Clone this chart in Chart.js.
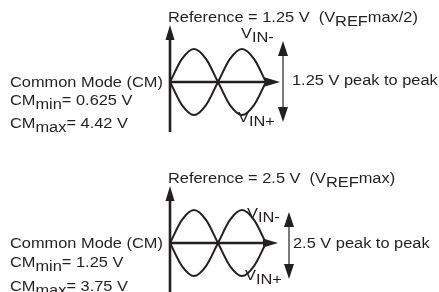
<!DOCTYPE html>
<html>
<head>
<meta charset="utf-8">
<script src="https://cdn.jsdelivr.net/npm/chart.js@4"></script>
<style>
  html, body { margin: 0; padding: 0; background: #fff; }
  canvas { display: block; }
</style>
</head>
<body>
<canvas id="top" width="439" height="146"></canvas>
<canvas id="bottom" width="439" height="146"></canvas>
<script>
// one period of the two inputs (fraction of a cycle, normalised amplitude)
const phase = [0, 0.125, 0.25, 0.375, 0.5, 0.625, 0.75, 0.875, 1];
const vinPlus = [0, 0.7, 1, 0.7, 0, -0.7, -1, -0.7, 0];
const vinMinus = [0, -0.7, -1, -0.7, 0, 0.7, 1, 0.7, 0];

// text of the two panels
const refVolts = ['1.25 V', '2.5 V'];
const refNotes = ['max/2)', 'max)'];
const peakToPeak = ['1.25 V', '2.5 V'];
const cmMin = ['0.625 V', '1.25 V'];
const cmMax = ['4.42 V', '3.75 V'];

const INK = '#231f20';
const FONT = '14px "Liberation Sans", Arial, sans-serif';
const SX = 1.17;     // the original lettering is slightly wide
const PX_CYCLE = 96; // pixels per cycle
const PX_AMP = 33;   // pixels per unit amplitude

// placement of the decorations, in canvas pixels of each panel
const layouts = [
  { axisY: 82, vTop: 25, vBot: 132, hTip: 280, arX: 283, arTop: 41, arBot: 122,
    refY: 22, cmY: 87, minY: 105, maxY: 128, ppY: 85, vmX: 241, vmY: 38, vpX: 238, vpY: 122 },
  { axisY: 97, vTop: 40, vBot: 150, hTip: 278, arX: 289, arTop: 66, arBot: 133,
    refY: 37, cmY: 102, minY: 121, maxY: 145, ppY: 102, vmX: 247, vmY: 72, vpX: 245, vpY: 134 }
];

function rich(ctx, x, y, parts) {
  let cx = x;
  for (const [t, sub] of parts) {
    ctx.save();
    ctx.translate(cx, y + (sub ? 4 : 0));
    ctx.scale(SX, 1);
    ctx.fillText(t, 0, 0);
    ctx.restore();
    cx += ctx.measureText(t).width * SX;
  }
}

function head(ctx, x, y, dir, len, half) {
  // dir: 'up' | 'down' | 'right'
  ctx.beginPath();
  if (dir === 'up') { ctx.moveTo(x, y); ctx.lineTo(x - half, y + len); ctx.lineTo(x + half, y + len); }
  if (dir === 'down') { ctx.moveTo(x, y); ctx.lineTo(x - half, y - len); ctx.lineTo(x + half, y - len); }
  if (dir === 'right') { ctx.moveTo(x, y); ctx.lineTo(x - len, y - half); ctx.lineTo(x - len, y + half); }
  ctx.closePath();
  ctx.fill();
}

const decor = {
  id: 'decor',
  afterDatasetsDraw(chart, args, opts) {
    const { ctx, scales } = chart;
    const L = layouts[opts.i];
    const x0 = scales.x.getPixelForValue(0);
    const y0 = scales.y.getPixelForValue(0);
    ctx.save();
    ctx.strokeStyle = INK;
    ctx.fillStyle = INK;
    // vertical axis
    ctx.lineWidth = 2.6;
    ctx.beginPath(); ctx.moveTo(x0, L.vBot); ctx.lineTo(x0, L.vTop + 10); ctx.stroke();
    head(ctx, x0, L.vTop, 'up', 15, 4.5);
    // horizontal axis
    ctx.beginPath(); ctx.moveTo(x0, y0); ctx.lineTo(L.hTip - 10, y0); ctx.stroke();
    head(ctx, L.hTip, y0, 'right', 15, 4.5);
    // peak to peak double arrow
    ctx.lineWidth = 1.2;
    ctx.beginPath(); ctx.moveTo(L.arX, L.arTop + 10); ctx.lineTo(L.arX, L.arBot - 10); ctx.stroke();
    head(ctx, L.arX, L.arTop, 'up', 15, 5);
    head(ctx, L.arX, L.arBot, 'down', 15, 5);
    // texts
    ctx.font = FONT;
    ctx.textBaseline = 'alphabetic';
    const i = opts.i;
    rich(ctx, 168, L.refY, [['Reference = ' + refVolts[i] + '  (V', 0], ['REF', 1], [refNotes[i], 0]]);
    rich(ctx, 10, L.cmY, [['Common Mode (CM)', 0]]);
    rich(ctx, 10, L.minY, [['CM', 0], ['min', 1], ['= ' + cmMin[i], 0]]);
    rich(ctx, 10, L.maxY, [['CM', 0], ['max', 1], ['= ' + cmMax[i], 0]]);
    rich(ctx, i === 0 ? 292 : 293, L.ppY, [[peakToPeak[i] + ' peak to peak', 0]]);
    rich(ctx, L.vmX, L.vmY, [['V', 0], ['IN-', 1]]);
    rich(ctx, L.vpX, L.vpY, [['V', 0], ['IN+', 1]]);
    ctx.restore();
  }
};

function makePanel(id, i) {
  const L = layouts[i];
  const curve = (vals, label) => ({
    label: label,
    data: phase.map((p, k) => ({ x: p, y: vals[k] })),
    borderColor: INK,
    borderWidth: 2,
    pointRadius: 0,
    cubicInterpolationMode: 'monotone',
    fill: false
  });
  new Chart(document.getElementById(id), {
    type: 'scatter',
    data: { datasets: [curve(vinPlus, 'VIN+'), curve(vinMinus, 'VIN-')] },
    options: {
      responsive: false,
      animation: false,
      showLine: true,
      layout: { padding: 0 },
      scales: {
        x: { type: 'linear', display: false, min: -170 / PX_CYCLE, max: 269 / PX_CYCLE },
        y: { type: 'linear', display: false, min: -(146 - L.axisY) / PX_AMP, max: L.axisY / PX_AMP }
      },
      plugins: { legend: { display: false }, tooltip: { enabled: false }, decor: { i: i } }
    },
    plugins: [decor]
  });
}

makePanel('top', 0);
makePanel('bottom', 1);
</script>
</body>
</html>
